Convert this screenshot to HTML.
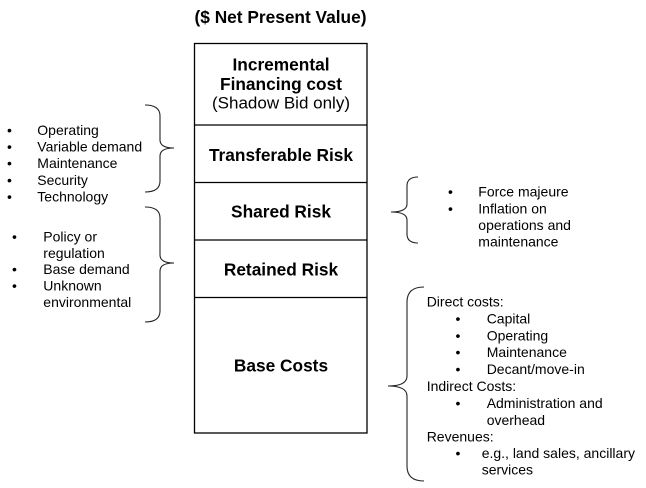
<!DOCTYPE html>
<html>
<head>
<meta charset="utf-8">
<style>
  html, body { margin: 0; padding: 0; background: #fff; }
  body { width: 646px; height: 488px; overflow: hidden; }
  svg { display: block; }
  text { font-family: "Liberation Sans", Arial, sans-serif; fill: #000; }
  .b { font-weight: bold; font-size: 17.3px; }
  .r { font-size: 14px; }
  .br { fill: none; stroke: #222; stroke-width: 1.1; }
</style>
</head>
<body>
<svg width="646" height="488" viewBox="0 0 646 488" xmlns="http://www.w3.org/2000/svg">
  <!-- Title -->
  <text class="b" x="280.5" y="23" text-anchor="middle">($ Net Present Value)</text>

  <!-- Stacked box -->
  <rect x="194.5" y="43.5" width="172.5" height="389.5" fill="none" stroke="#000" stroke-width="1.3"/>
  <line x1="194.5" y1="125" x2="367" y2="125" stroke="#000" stroke-width="1.3"/>
  <line x1="194.5" y1="182.5" x2="367" y2="182.5" stroke="#000" stroke-width="1.3"/>
  <line x1="194.5" y1="240" x2="367" y2="240" stroke="#000" stroke-width="1.3"/>
  <line x1="194.5" y1="297.5" x2="367" y2="297.5" stroke="#000" stroke-width="1.3"/>

  <text class="b" x="281" y="70.5" text-anchor="middle">Incremental</text>
  <text class="b" x="281" y="90" text-anchor="middle">Financing cost</text>
  <text x="281" y="108.5" text-anchor="middle" style="font-size:17px">(Shadow Bid only)</text>
  <text class="b" x="281" y="161" text-anchor="middle">Transferable Risk</text>
  <text class="b" x="281" y="217.5" text-anchor="middle">Shared Risk</text>
  <text class="b" x="281" y="275.5" text-anchor="middle">Retained Risk</text>
  <text class="b" x="281" y="371.5" text-anchor="middle">Base Costs</text>

  <!-- Braces -->
  <path class="br" d="M145,105 Q160,105 160,116 L160,140 Q160,148 174,148 Q160,148 160,156 L160,181 Q160,192 145,192"/>
  <path class="br" d="M145,207 Q160,207 160,218 L160,255 Q160,263 174,263 Q160,263 160,271 L160,311 Q160,322 145,322"/>
  <path class="br" d="M418,177 Q407,177 407,186 L407,204 Q407,212 391,212 Q407,212 407,220 L407,234 Q407,243 418,243"/>
  <path class="br" d="M424,287 Q407,287 407,302 L407,376 Q407,386 388,386 Q407,386 407,396 L407,466 Q407,481 424,481"/>

  <!-- Left list 1 -->
  <g class="r">
    <text class="r" x="7" y="135">•</text><text class="r" x="37.3" y="135">Operating</text>
    <text class="r" x="7" y="151.6">•</text><text class="r" x="37.3" y="151.6">Variable demand</text>
    <text class="r" x="7" y="168.2">•</text><text class="r" x="37.3" y="168.2">Maintenance</text>
    <text class="r" x="7" y="184.8">•</text><text class="r" x="37.3" y="184.8">Security</text>
    <text class="r" x="7" y="201.4">•</text><text class="r" x="37.3" y="201.4">Technology</text>
  </g>

  <!-- Left list 2 -->
  <text class="r" x="12" y="241.5">•</text><text class="r" x="43.3" y="241.5">Policy or</text>
  <text class="r" x="43.3" y="257.8">regulation</text>
  <text class="r" x="12" y="274.2">•</text><text class="r" x="43.3" y="274.2">Base demand</text>
  <text class="r" x="12" y="290.6">•</text><text class="r" x="43.3" y="290.6">Unknown</text>
  <text class="r" x="43.3" y="306.8">environmental</text>

  <!-- Right list 1 -->
  <text class="r" x="448" y="196.7">•</text><text class="r" x="478.3" y="196.7">Force majeure</text>
  <text class="r" x="448" y="213.3">•</text><text class="r" x="478.3" y="213.3">Inflation on</text>
  <text class="r" x="478.3" y="230">operations and</text>
  <text class="r" x="478.3" y="246.5">maintenance</text>

  <!-- Right list 2 -->
  <text class="r" x="426.7" y="306.7">Direct costs:</text>
  <text class="r" x="455.5" y="323.7">•</text><text class="r" x="486.7" y="323.7">Capital</text>
  <text class="r" x="455.5" y="340.4">•</text><text class="r" x="486.7" y="340.4">Operating</text>
  <text class="r" x="455.5" y="357.1">•</text><text class="r" x="486.7" y="357.1">Maintenance</text>
  <text class="r" x="455.5" y="373.8">•</text><text class="r" x="486.7" y="373.8">Decant/move-in</text>
  <text class="r" x="426.7" y="390.9">Indirect Costs:</text>
  <text class="r" x="455.5" y="408.2">•</text><text class="r" x="486.7" y="408.2">Administration and</text>
  <text class="r" x="486.7" y="424.8">overhead</text>
  <text class="r" x="426.7" y="441.5">Revenues:</text>
  <text class="r" x="455.5" y="458.2">•</text><text class="r" x="481.7" y="458.2">e.g., land sales, ancillary</text>
  <text class="r" x="481.7" y="474.5">services</text>
</svg>
</body>
</html>
